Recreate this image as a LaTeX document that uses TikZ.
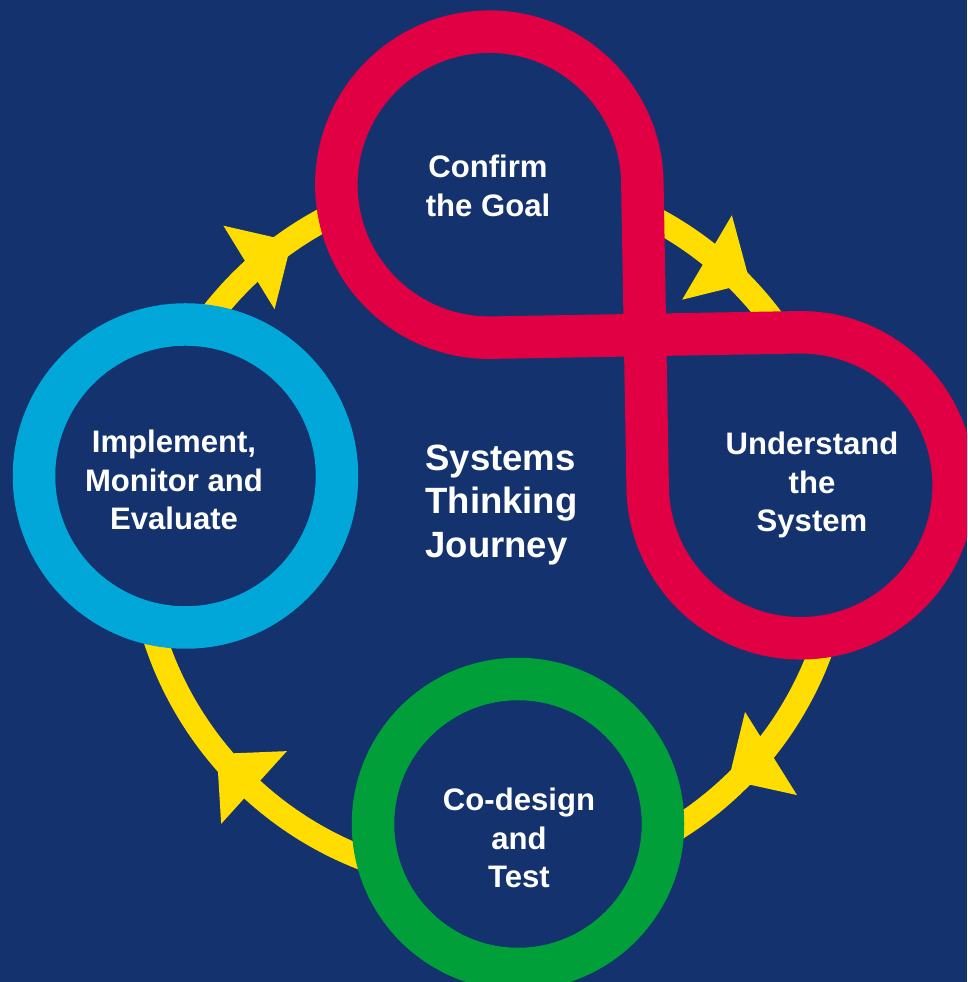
\documentclass[tikz,border=0pt]{standalone}
\usepackage{fontspec}
\setmainfont{Liberation Sans}
\definecolor{navy}{HTML}{14336E}
\definecolor{gold}{HTML}{FFDD00}
\definecolor{loopred}{HTML}{E20044}
\definecolor{ringblue}{HTML}{00A7D8}
\definecolor{ringgreen}{HTML}{009F3A}
\tikzset{every picture/.style = {x=0.02cm, y=0.02cm}}
\tikzset{track/.style = {draw=gold, line width=0.48cm}}
\tikzset{barb/.style = {fill=gold}}
\tikzset{hoop/.style = {fill=navy, line width=0.85cm}}
\tikzset{stage/.style = {white, align=center, font=\bfseries\fontsize{17.7}{21.8}\selectfont}}
\tikzset{title/.style = {white, align=left, anchor=west, inner sep=0, font=\bfseries\fontsize{20.8}{25}\selectfont}}

\begin{document}
\begin{tikzpicture}
  \useasboundingbox (0, 0) rectangle (967, 982);
  \clip (0, 0) rectangle (967, 982);
  \fill[navy] (0, 0) rectangle (967, 982);
  \coordinate (hub) at (490, 452);
  \coordinate (cross) at (645, 647);

  % the yellow track, running clockwise
  \draw[track] (hub) circle[radius=352];
  \foreach \x/\y/\a in {249/714.5/31.5, 707/724.5/-30.5, 771/228.5/-148, 254/194.5/137.9}
    \fill[barb, shift={(\x, \y)}, rotate=\a] (0, 49) -- (50, 0) -- (0, -49) -- cycle;

  % figure of eight
  \begin{scope}[shift={(cross)}, rotate=1]
    \draw[hoop, draw=loopred] (-153, 0) -- (153, 0)
      arc[start angle=90, end angle=-180, radius=153] -- (0, 153)
      arc[start angle=0, end angle=270, radius=153] -- cycle;
  \end{scope}

  % rings
  \draw[hoop, draw=ringblue] (185.5, 506) circle[radius=151.5];
  \draw[hoop, draw=ringgreen] (518, 158) circle[radius=145];

  % labels
  \node[stage] (goal) at (488, 796) {Confirm\\the Goal};
  \node[stage] (system) at (812, 497) {Understand\\the\\System};
  \node[stage] (codesign) at (519, 144) {Co-design\\and\\Test};
  \node[stage] (implement) at (174, 502) {Implement,\\Monitor and\\Evaluate};
  \node[title] (journey) at (425, 477) {Systems\\Thinking\\Journey};
\end{tikzpicture}
\end{document}
